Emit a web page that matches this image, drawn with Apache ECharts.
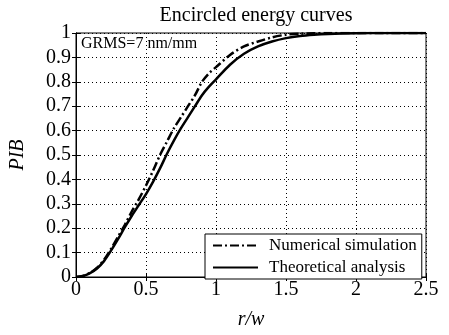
<!DOCTYPE html>
<html>
<head>
<meta charset="utf-8">
<script src="https://cdn.jsdelivr.net/npm/echarts@6/dist/echarts.min.js"></script>
<style>html,body{margin:0;padding:0;background:#fff}#c{width:449px;height:335px}</style>
</head>
<body>
<div id="c"></div>
<script>
var titleText = 'Encircled energy curves';
var noteText = 'GRMS=7 nm/mm';
var xName = 'r/w';
var yName = 'PIB';
var xTicks = [0, 0.5, 1, 1.5, 2, 2.5];
var yTicks = [0, 0.1, 0.2, 0.3, 0.4, 0.5, 0.6, 0.7, 0.8, 0.9, 1];
var seriesNames = ['Numerical simulation', 'Theoretical analysis'];
var rValues = [0, 0.05, 0.1, 0.15, 0.2, 0.25, 0.3, 0.35, 0.4, 0.45, 0.5, 0.55, 0.6, 0.65, 0.7, 0.75, 0.8, 0.85, 0.9, 0.95, 1.0, 1.1, 1.2, 1.3, 1.4, 1.5, 1.6, 1.7, 1.8, 2.0, 2.2, 2.5];
var numericalPIB = [0, 0.004, 0.017, 0.038, 0.07, 0.115, 0.165, 0.215, 0.27, 0.32, 0.375, 0.435, 0.5, 0.555, 0.61, 0.655, 0.70, 0.745, 0.80, 0.835, 0.86, 0.91, 0.945, 0.965, 0.982, 0.993, 0.997, 0.999, 1.0, 1.0, 1.0, 1.0];
var theoreticalPIB = [0, 0.004, 0.016, 0.035, 0.065, 0.108, 0.155, 0.205, 0.252, 0.296, 0.34, 0.39, 0.445, 0.505, 0.56, 0.61, 0.655, 0.70, 0.745, 0.78, 0.81, 0.87, 0.915, 0.945, 0.965, 0.979, 0.988, 0.993, 0.996, 0.999, 1.0, 1.0];

function pairs(xs, ys) { return xs.map(function (x, i) { return [x, ys[i]]; }); }

var FONT = 'Liberation Serif';
var chart = echarts.init(document.getElementById('c'), null, {renderer: 'canvas'});
var gridDef = {left: 76, right: 23, top: 33, bottom: 57, show: true, borderColor: '#000', borderWidth: 1, backgroundColor: '#fff'};
var splitDot = {show: true, lineStyle: {color: '#000', width: 1, type: [1, 3]}};
chart.setOption({
  animation: false,
  title: {text: titleText, left: 251, top: 1, textAlign: 'center',
    textStyle: {fontFamily: FONT, fontSize: 20, fontWeight: 'normal', color: '#000'}},
  grid: gridDef,
  legend: {
    orient: 'vertical', left: 205, top: 234, itemWidth: 45, itemHeight: 14, itemGap: 5,
    padding: [3, 5, 3, 7], backgroundColor: '#fff', borderColor: '#000', borderWidth: 1, borderRadius: 0,
    itemStyle: {opacity: 0},
    textStyle: {fontFamily: FONT, fontSize: 17, color: '#000', padding: [0, 0, 0, 6]},
    data: seriesNames
  },
  xAxis: [{
    type: 'value', min: xTicks[0], max: xTicks[xTicks.length - 1], interval: 0.5,
    name: xName, nameLocation: 'middle', nameGap: 33,
    nameTextStyle: {fontFamily: FONT, fontSize: 20, fontStyle: 'italic', color: '#000'},
    axisLine: {show: true, lineStyle: {color: '#000'}},
    axisTick: {show: true, inside: true, length: 4, lineStyle: {color: '#000'}},
    axisLabel: {fontFamily: FONT, fontSize: 20, color: '#000', margin: 3},
    splitLine: splitDot
  }, {
    type: 'value', position: 'top', min: xTicks[0], max: xTicks[xTicks.length - 1], interval: 0.5,
    axisLine: {show: true, lineStyle: {color: '#000'}},
    axisTick: {show: true, inside: true, length: 4, lineStyle: {color: '#000'}},
    axisLabel: {show: false}, splitLine: {show: false}
  }],
  yAxis: [{
    type: 'value', min: yTicks[0], max: yTicks[yTicks.length - 1], interval: 0.1,
    name: yName, nameLocation: 'middle', nameGap: 48,
    nameTextStyle: {fontFamily: FONT, fontSize: 20, fontStyle: 'italic', color: '#000'},
    axisLine: {show: true, lineStyle: {color: '#000'}},
    axisTick: {show: true, inside: true, length: 4, lineStyle: {color: '#000'}},
    axisLabel: {fontFamily: FONT, fontSize: 20, color: '#000', margin: 5,
      formatter: function (v) { return String(Math.round(v * 10) / 10); }},
    splitLine: splitDot
  }, {
    type: 'value', position: 'right', min: yTicks[0], max: yTicks[yTicks.length - 1], interval: 0.1,
    axisLine: {show: true, lineStyle: {color: '#000'}},
    axisTick: {show: true, inside: true, length: 4, lineStyle: {color: '#000'}},
    axisLabel: {show: false}, splitLine: {show: false}
  }],
  graphic: [{
    type: 'text', left: 81, top: 36, z: 10,
    style: {text: noteText, font: '16px "Liberation Serif"', fill: '#000'}
  }],
  series: [{
    name: seriesNames[0], type: 'line', smooth: 0.3, showSymbol: false, symbol: 'none',
    data: pairs(rValues, numericalPIB), z: 3,
    lineStyle: {color: '#000', width: 2.5, type: [9, 3, 2, 3]}, itemStyle: {color: '#000'}
  }, {
    name: seriesNames[1], type: 'line', smooth: 0.3, showSymbol: false, symbol: 'none',
    data: pairs(rValues, theoreticalPIB), z: 3,
    lineStyle: {color: '#000', width: 2.5, type: 'solid'}, itemStyle: {color: '#000'}
  }]
});
</script>
</body>
</html>
